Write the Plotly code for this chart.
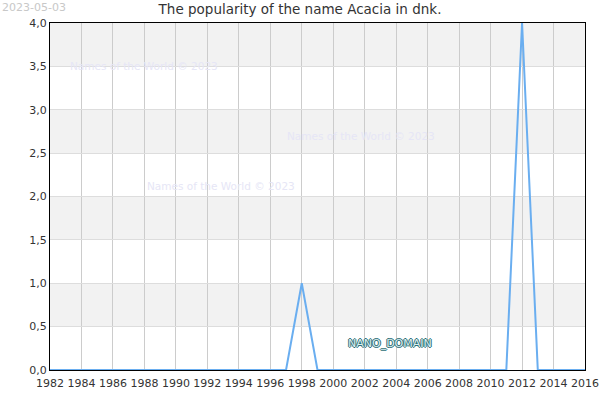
import plotly.graph_objects as go

# data
years = list(range(1982, 2017))
counts = [0] * len(years)
counts[years.index(1998)] = 1
counts[years.index(2012)] = 4

title = "The popularity of the name Acacia in dnk."
stamp = "2023-05-03"
watermark = "Names of the World © 2023"
domain = "NANO_DOMAIN"
y_ticks = [0, 0.5, 1, 1.5, 2, 2.5, 3, 3.5, 4]
x_ticks = list(range(1982, 2017, 2))

fig = go.Figure(go.Scatter(x=years, y=counts, mode="lines",
                           line=dict(color="#6aaef0", width=2),
                           hoverinfo="x+y"))

# alternating horizontal bands
shapes = []
for lo in [0.5, 1.5, 2.5, 3.5]:
    shapes.append(dict(type="rect", xref="paper", yref="y", x0=0, x1=1,
                       y0=lo, y1=lo + 0.5, fillcolor="#f2f2f2",
                       line=dict(width=0), layer="below"))

annos = [
    dict(text=stamp, x=0, y=1.069, xref="paper", yref="paper", xanchor="left",
         yanchor="top", xshift=-50, showarrow=False,
         font=dict(size=11, color="#c8c8c8")),
    dict(text=watermark, x=68, y=3.5, xanchor="left", showarrow=False,
         font=dict(size=10.5, color="#e6e6f6")),
    dict(text=watermark, x=285, y=2.7, xanchor="left", showarrow=False,
         font=dict(size=10.5, color="#e6e6f6")),
    dict(text=watermark, x=145, y=2.12, xanchor="left", showarrow=False,
         font=dict(size=10.5, color="#e6e6f6")),
    dict(text=domain, x=390, y=0.31, showarrow=False,
         font=dict(size=11, color="#dceef0",
                   shadow="1px 0 #2c6e76, -1px 0 #2c6e76, 0 1px #2c6e76, 0 -1px #2c6e76")),
]
# watermark/domain positions given in pixels -> convert to data x
for a in annos[1:]:
    px = a["x"]
    a["x"] = 1982 + (px - 50) / (585 - 50) * 34
    a["xref"] = "x"
    a["yref"] = "y"

fig.update_layout(
    width=600, height=400,
    margin=dict(l=50, r=15, t=23, b=30),
    paper_bgcolor="white", plot_bgcolor="white",
    separators=",.",
    font=dict(family="DejaVu Sans", size=11, color="#333333"),
    title=dict(text=title, x=0.5, xanchor="center", y=0.988, yanchor="top",
               font=dict(size=13.5, color="#333333")),
    showlegend=False,
    shapes=shapes,
    annotations=annos,
    xaxis=dict(range=[1982, 2016], tickvals=x_ticks, tickformat="d",
               showgrid=True, gridcolor="#cccccc", gridwidth=1,
               showline=True, linecolor="black", linewidth=1, mirror=True,
               ticks="", zeroline=False, fixedrange=True, automargin=False,
               ticklabelstandoff=3),
    yaxis=dict(range=[0, 4], tickvals=y_ticks, tickformat=".1f",
               showgrid=True, gridcolor="#dddddd", gridwidth=1,
               showline=True, linecolor="black", linewidth=1, mirror=True,
               ticks="", zeroline=False, fixedrange=True, automargin=False),
)

fig.write_html("out.html",
               config={"displayModeBar": False, "responsive": False},
               post_script="document.body.style.margin='0px';"
                           "document.body.style.overflow='hidden';")
